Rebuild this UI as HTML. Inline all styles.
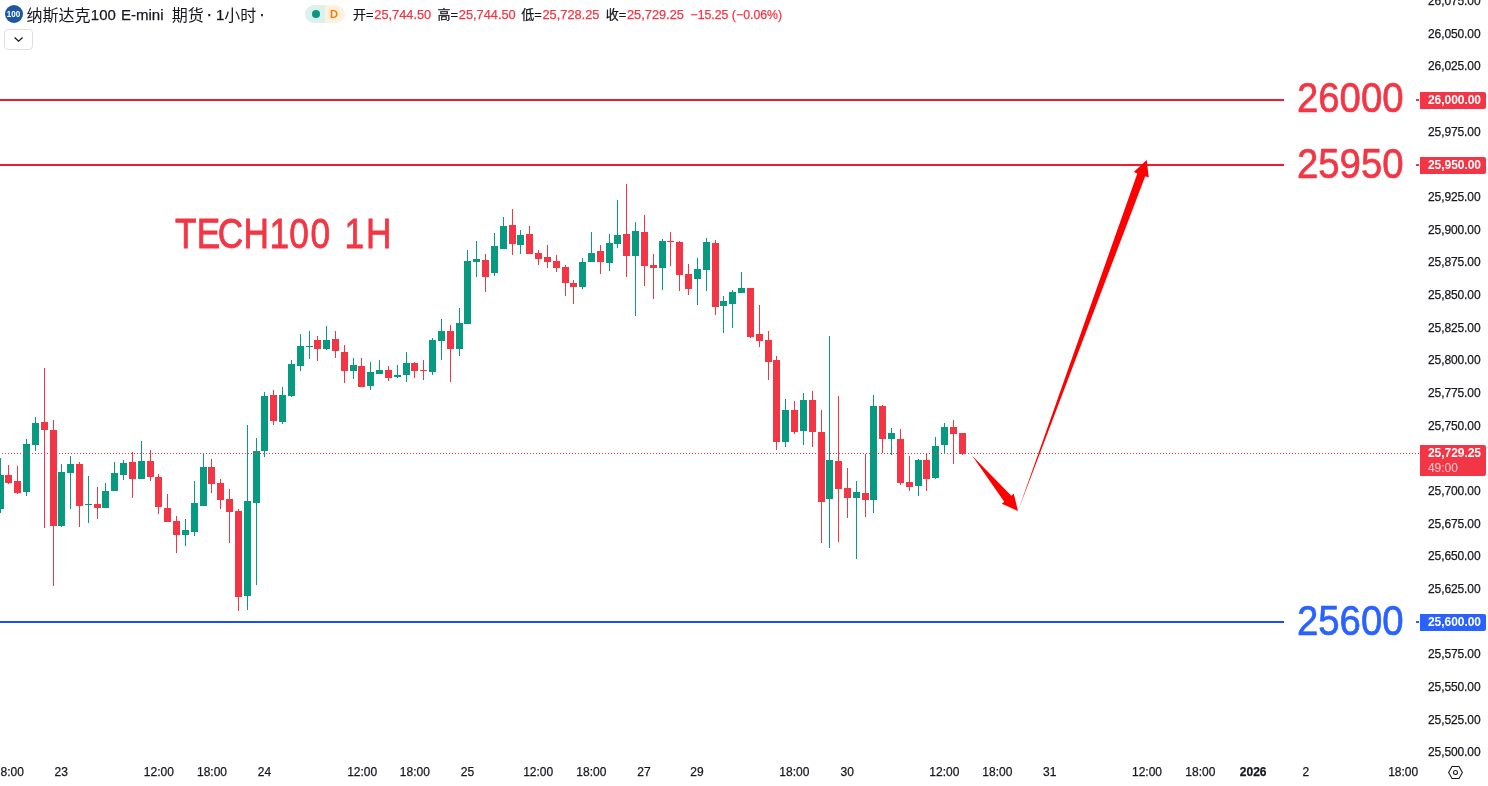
<!DOCTYPE html>
<html lang="zh-CN"><head><meta charset="utf-8"><title>TECH100 1H</title>
<style>
html,body{margin:0;padding:0;background:#fff;}
body{width:1488px;height:786px;position:relative;overflow:hidden;font-family:"Liberation Sans","Noto Sans CJK SC",sans-serif;color:#16181e;}
#chart{position:absolute;left:0;top:0;}
.pl,.tl,.ohlc,.h15{-webkit-text-stroke:0.25px currentColor;}
.pl{position:absolute;left:1428px;width:60px;height:16px;line-height:16px;font-size:12px;white-space:nowrap;letter-spacing:-0.1px;}
.tl{position:absolute;top:764px;width:60px;height:16px;line-height:16px;font-size:12px;text-align:center;white-space:nowrap;}
.tl.b{font-weight:bold;}
.tag{position:absolute;left:1420px;width:66px;height:17px;border-radius:0 2px 2px 0;color:#fff;font-weight:bold;font-size:12px;line-height:17px;box-sizing:border-box;padding-left:8px;white-space:nowrap;letter-spacing:-0.05px;}
.big{position:absolute;left:1297.2px;font-size:42px;line-height:44px;height:44px;white-space:nowrap;transform-origin:0 0;transform:scaleX(0.912);margin-top:0.7px;-webkit-text-stroke:0.7px currentColor;}
.hdr{position:absolute;white-space:nowrap;}
.h16{top:4.8px;height:22px;line-height:22px;font-size:16px;}
.h15{top:4px;height:22px;line-height:22px;font-size:15px;}
.ohlc{position:absolute;top:6px;height:18px;line-height:18px;font-size:12.8px;white-space:nowrap;color:#f23645;}
.ohlc i{font-style:normal;color:#16181e;font-size:13px;}
#wrap{position:absolute;left:0;top:0;width:1488px;height:786px;will-change:transform;}
</style></head><body>
<div id="wrap">
<svg id="chart" width="1488" height="786" viewBox="0 0 1488 786">
<g shape-rendering="crispEdges">
<rect x="0" y="458" width="1" height="55" fill="#089981"/>
<rect x="-3" y="475" width="7" height="34" fill="#089981"/>
<rect x="8" y="465" width="1" height="19" fill="#f23645"/>
<rect x="5" y="475" width="7" height="8" fill="#f23645"/>
<rect x="17" y="466" width="1" height="28" fill="#f23645"/>
<rect x="14" y="481" width="7" height="12" fill="#f23645"/>
<rect x="26" y="439" width="1" height="57" fill="#089981"/>
<rect x="23" y="444" width="7" height="48" fill="#089981"/>
<rect x="35" y="417" width="1" height="34" fill="#089981"/>
<rect x="32" y="423" width="7" height="22" fill="#089981"/>
<rect x="44" y="368" width="1" height="160" fill="#f23645"/>
<rect x="41" y="422" width="7" height="8" fill="#f23645"/>
<rect x="53" y="420" width="1" height="166" fill="#f23645"/>
<rect x="50" y="430" width="7" height="96" fill="#f23645"/>
<rect x="61" y="464" width="1" height="63" fill="#089981"/>
<rect x="58" y="472" width="7" height="54" fill="#089981"/>
<rect x="70" y="456" width="1" height="53" fill="#089981"/>
<rect x="67" y="464" width="7" height="9" fill="#089981"/>
<rect x="79" y="462" width="1" height="65" fill="#f23645"/>
<rect x="76" y="464" width="7" height="42" fill="#f23645"/>
<rect x="88" y="476" width="1" height="47" fill="#089981"/>
<rect x="85" y="504" width="7" height="1" fill="#089981"/>
<rect x="97" y="487" width="1" height="32" fill="#f23645"/>
<rect x="94" y="504" width="7" height="4" fill="#f23645"/>
<rect x="105" y="483" width="1" height="25" fill="#089981"/>
<rect x="102" y="491" width="7" height="17" fill="#089981"/>
<rect x="114" y="462" width="1" height="29" fill="#089981"/>
<rect x="111" y="473" width="7" height="18" fill="#089981"/>
<rect x="123" y="460" width="1" height="20" fill="#089981"/>
<rect x="120" y="463" width="7" height="12" fill="#089981"/>
<rect x="132" y="452" width="1" height="46" fill="#f23645"/>
<rect x="129" y="462" width="7" height="17" fill="#f23645"/>
<rect x="141" y="441" width="1" height="38" fill="#089981"/>
<rect x="138" y="461" width="7" height="18" fill="#089981"/>
<rect x="150" y="450" width="1" height="31" fill="#f23645"/>
<rect x="147" y="461" width="7" height="16" fill="#f23645"/>
<rect x="158" y="474" width="1" height="40" fill="#f23645"/>
<rect x="155" y="477" width="7" height="30" fill="#f23645"/>
<rect x="167" y="494" width="1" height="28" fill="#f23645"/>
<rect x="164" y="508" width="7" height="14" fill="#f23645"/>
<rect x="176" y="516" width="1" height="37" fill="#f23645"/>
<rect x="173" y="521" width="7" height="14" fill="#f23645"/>
<rect x="185" y="519" width="1" height="27" fill="#089981"/>
<rect x="182" y="530" width="7" height="5" fill="#089981"/>
<rect x="194" y="481" width="1" height="55" fill="#089981"/>
<rect x="191" y="503" width="7" height="29" fill="#089981"/>
<rect x="203" y="454" width="1" height="52" fill="#089981"/>
<rect x="200" y="467" width="7" height="39" fill="#089981"/>
<rect x="211" y="459" width="1" height="34" fill="#f23645"/>
<rect x="208" y="467" width="7" height="17" fill="#f23645"/>
<rect x="220" y="479" width="1" height="30" fill="#f23645"/>
<rect x="217" y="483" width="7" height="17" fill="#f23645"/>
<rect x="229" y="489" width="1" height="54" fill="#f23645"/>
<rect x="226" y="499" width="7" height="13" fill="#f23645"/>
<rect x="238" y="509" width="1" height="102" fill="#f23645"/>
<rect x="235" y="511" width="7" height="86" fill="#f23645"/>
<rect x="247" y="425" width="1" height="185" fill="#089981"/>
<rect x="244" y="501" width="7" height="95" fill="#089981"/>
<rect x="256" y="438" width="1" height="147" fill="#089981"/>
<rect x="253" y="451" width="7" height="52" fill="#089981"/>
<rect x="264" y="392" width="1" height="65" fill="#089981"/>
<rect x="261" y="396" width="7" height="55" fill="#089981"/>
<rect x="273" y="390" width="1" height="35" fill="#f23645"/>
<rect x="270" y="395" width="7" height="26" fill="#f23645"/>
<rect x="282" y="387" width="1" height="37" fill="#089981"/>
<rect x="279" y="395" width="7" height="27" fill="#089981"/>
<rect x="291" y="360" width="1" height="37" fill="#089981"/>
<rect x="288" y="364" width="7" height="32" fill="#089981"/>
<rect x="300" y="334" width="1" height="37" fill="#089981"/>
<rect x="297" y="346" width="7" height="20" fill="#089981"/>
<rect x="309" y="331" width="1" height="28" fill="#089981"/>
<rect x="306" y="346" width="7" height="1" fill="#089981"/>
<rect x="317" y="336" width="1" height="25" fill="#f23645"/>
<rect x="314" y="340" width="7" height="9" fill="#f23645"/>
<rect x="326" y="326" width="1" height="24" fill="#089981"/>
<rect x="323" y="340" width="7" height="9" fill="#089981"/>
<rect x="335" y="331" width="1" height="27" fill="#f23645"/>
<rect x="332" y="339" width="7" height="12" fill="#f23645"/>
<rect x="344" y="345" width="1" height="38" fill="#f23645"/>
<rect x="341" y="352" width="7" height="19" fill="#f23645"/>
<rect x="353" y="358" width="1" height="21" fill="#089981"/>
<rect x="350" y="365" width="7" height="6" fill="#089981"/>
<rect x="361" y="358" width="1" height="29" fill="#f23645"/>
<rect x="358" y="366" width="7" height="21" fill="#f23645"/>
<rect x="370" y="362" width="1" height="28" fill="#089981"/>
<rect x="367" y="372" width="7" height="14" fill="#089981"/>
<rect x="379" y="360" width="1" height="14" fill="#089981"/>
<rect x="376" y="370" width="7" height="4" fill="#089981"/>
<rect x="388" y="366" width="1" height="15" fill="#f23645"/>
<rect x="385" y="370" width="7" height="8" fill="#f23645"/>
<rect x="397" y="365" width="1" height="13" fill="#089981"/>
<rect x="394" y="375" width="7" height="2" fill="#089981"/>
<rect x="406" y="352" width="1" height="30" fill="#089981"/>
<rect x="403" y="363" width="7" height="12" fill="#089981"/>
<rect x="414" y="362" width="1" height="16" fill="#f23645"/>
<rect x="411" y="363" width="7" height="8" fill="#f23645"/>
<rect x="423" y="360" width="1" height="20" fill="#f23645"/>
<rect x="420" y="370" width="7" height="1" fill="#f23645"/>
<rect x="432" y="338" width="1" height="37" fill="#089981"/>
<rect x="429" y="340" width="7" height="32" fill="#089981"/>
<rect x="441" y="319" width="1" height="41" fill="#089981"/>
<rect x="438" y="331" width="7" height="10" fill="#089981"/>
<rect x="450" y="325" width="1" height="57" fill="#f23645"/>
<rect x="447" y="331" width="7" height="18" fill="#f23645"/>
<rect x="459" y="308" width="1" height="48" fill="#089981"/>
<rect x="456" y="323" width="7" height="26" fill="#089981"/>
<rect x="467" y="250" width="1" height="74" fill="#089981"/>
<rect x="464" y="261" width="7" height="63" fill="#089981"/>
<rect x="476" y="241" width="1" height="36" fill="#089981"/>
<rect x="473" y="259" width="7" height="3" fill="#089981"/>
<rect x="485" y="254" width="1" height="38" fill="#f23645"/>
<rect x="482" y="260" width="7" height="17" fill="#f23645"/>
<rect x="494" y="233" width="1" height="43" fill="#089981"/>
<rect x="491" y="246" width="7" height="27" fill="#089981"/>
<rect x="503" y="217" width="1" height="32" fill="#089981"/>
<rect x="500" y="226" width="7" height="23" fill="#089981"/>
<rect x="512" y="209" width="1" height="46" fill="#f23645"/>
<rect x="509" y="225" width="7" height="19" fill="#f23645"/>
<rect x="520" y="230" width="1" height="24" fill="#089981"/>
<rect x="517" y="235" width="7" height="10" fill="#089981"/>
<rect x="529" y="226" width="1" height="28" fill="#f23645"/>
<rect x="526" y="234" width="7" height="20" fill="#f23645"/>
<rect x="538" y="250" width="1" height="15" fill="#f23645"/>
<rect x="535" y="253" width="7" height="6" fill="#f23645"/>
<rect x="547" y="245" width="1" height="23" fill="#f23645"/>
<rect x="544" y="257" width="7" height="5" fill="#f23645"/>
<rect x="556" y="255" width="1" height="17" fill="#f23645"/>
<rect x="553" y="261" width="7" height="7" fill="#f23645"/>
<rect x="565" y="265" width="1" height="31" fill="#f23645"/>
<rect x="562" y="267" width="7" height="16" fill="#f23645"/>
<rect x="573" y="280" width="1" height="24" fill="#f23645"/>
<rect x="570" y="283" width="7" height="4" fill="#f23645"/>
<rect x="582" y="258" width="1" height="31" fill="#089981"/>
<rect x="579" y="262" width="7" height="25" fill="#089981"/>
<rect x="591" y="232" width="1" height="30" fill="#089981"/>
<rect x="588" y="253" width="7" height="9" fill="#089981"/>
<rect x="600" y="245" width="1" height="29" fill="#f23645"/>
<rect x="597" y="251" width="7" height="11" fill="#f23645"/>
<rect x="609" y="234" width="1" height="37" fill="#089981"/>
<rect x="606" y="243" width="7" height="20" fill="#089981"/>
<rect x="617" y="200" width="1" height="48" fill="#089981"/>
<rect x="614" y="235" width="7" height="9" fill="#089981"/>
<rect x="626" y="184" width="1" height="93" fill="#f23645"/>
<rect x="623" y="234" width="7" height="22" fill="#f23645"/>
<rect x="635" y="222" width="1" height="94" fill="#089981"/>
<rect x="632" y="231" width="7" height="25" fill="#089981"/>
<rect x="644" y="215" width="1" height="71" fill="#f23645"/>
<rect x="641" y="232" width="7" height="34" fill="#f23645"/>
<rect x="653" y="254" width="1" height="45" fill="#f23645"/>
<rect x="650" y="265" width="7" height="3" fill="#f23645"/>
<rect x="662" y="239" width="1" height="51" fill="#089981"/>
<rect x="659" y="241" width="7" height="27" fill="#089981"/>
<rect x="670" y="232" width="1" height="34" fill="#f23645"/>
<rect x="667" y="241" width="7" height="1" fill="#f23645"/>
<rect x="679" y="241" width="1" height="50" fill="#f23645"/>
<rect x="676" y="242" width="7" height="33" fill="#f23645"/>
<rect x="688" y="264" width="1" height="31" fill="#f23645"/>
<rect x="685" y="274" width="7" height="15" fill="#f23645"/>
<rect x="697" y="258" width="1" height="47" fill="#089981"/>
<rect x="694" y="269" width="7" height="10" fill="#089981"/>
<rect x="706" y="238" width="1" height="53" fill="#089981"/>
<rect x="703" y="242" width="7" height="28" fill="#089981"/>
<rect x="715" y="240" width="1" height="75" fill="#f23645"/>
<rect x="712" y="243" width="7" height="64" fill="#f23645"/>
<rect x="723" y="296" width="1" height="37" fill="#089981"/>
<rect x="720" y="301" width="7" height="5" fill="#089981"/>
<rect x="732" y="290" width="1" height="38" fill="#089981"/>
<rect x="729" y="292" width="7" height="12" fill="#089981"/>
<rect x="741" y="272" width="1" height="21" fill="#089981"/>
<rect x="738" y="288" width="7" height="5" fill="#089981"/>
<rect x="750" y="288" width="1" height="50" fill="#f23645"/>
<rect x="747" y="288" width="7" height="49" fill="#f23645"/>
<rect x="759" y="305" width="1" height="42" fill="#f23645"/>
<rect x="756" y="334" width="7" height="7" fill="#f23645"/>
<rect x="768" y="331" width="1" height="49" fill="#f23645"/>
<rect x="765" y="340" width="7" height="22" fill="#f23645"/>
<rect x="776" y="356" width="1" height="94" fill="#f23645"/>
<rect x="773" y="360" width="7" height="82" fill="#f23645"/>
<rect x="785" y="399" width="1" height="48" fill="#089981"/>
<rect x="782" y="410" width="7" height="32" fill="#089981"/>
<rect x="794" y="401" width="1" height="33" fill="#f23645"/>
<rect x="791" y="410" width="7" height="22" fill="#f23645"/>
<rect x="803" y="393" width="1" height="52" fill="#089981"/>
<rect x="800" y="400" width="7" height="31" fill="#089981"/>
<rect x="812" y="391" width="1" height="56" fill="#f23645"/>
<rect x="809" y="400" width="7" height="32" fill="#f23645"/>
<rect x="821" y="410" width="1" height="133" fill="#f23645"/>
<rect x="818" y="432" width="7" height="70" fill="#f23645"/>
<rect x="829" y="336" width="1" height="212" fill="#089981"/>
<rect x="826" y="460" width="7" height="39" fill="#089981"/>
<rect x="838" y="396" width="1" height="146" fill="#f23645"/>
<rect x="835" y="461" width="7" height="28" fill="#f23645"/>
<rect x="847" y="468" width="1" height="50" fill="#f23645"/>
<rect x="844" y="488" width="7" height="10" fill="#f23645"/>
<rect x="856" y="481" width="1" height="78" fill="#089981"/>
<rect x="853" y="492" width="7" height="6" fill="#089981"/>
<rect x="865" y="454" width="1" height="63" fill="#f23645"/>
<rect x="862" y="493" width="7" height="7" fill="#f23645"/>
<rect x="873" y="395" width="1" height="118" fill="#089981"/>
<rect x="870" y="406" width="7" height="94" fill="#089981"/>
<rect x="882" y="405" width="1" height="48" fill="#f23645"/>
<rect x="879" y="406" width="7" height="33" fill="#f23645"/>
<rect x="891" y="428" width="1" height="27" fill="#089981"/>
<rect x="888" y="433" width="7" height="6" fill="#089981"/>
<rect x="900" y="429" width="1" height="56" fill="#f23645"/>
<rect x="897" y="439" width="7" height="44" fill="#f23645"/>
<rect x="909" y="456" width="1" height="35" fill="#f23645"/>
<rect x="906" y="482" width="7" height="5" fill="#f23645"/>
<rect x="918" y="459" width="1" height="37" fill="#089981"/>
<rect x="915" y="460" width="7" height="26" fill="#089981"/>
<rect x="926" y="453" width="1" height="38" fill="#f23645"/>
<rect x="923" y="460" width="7" height="19" fill="#f23645"/>
<rect x="935" y="437" width="1" height="42" fill="#089981"/>
<rect x="932" y="446" width="7" height="32" fill="#089981"/>
<rect x="944" y="423" width="1" height="30" fill="#089981"/>
<rect x="941" y="427" width="7" height="18" fill="#089981"/>
<rect x="953" y="420" width="1" height="44" fill="#f23645"/>
<rect x="950" y="427" width="7" height="7" fill="#f23645"/>
<rect x="962" y="433" width="1" height="22" fill="#f23645"/>
<rect x="959" y="433" width="7" height="21" fill="#f23645"/>
<line x1="2" y1="453.5" x2="1420" y2="453.5" stroke="#f23645" stroke-width="1" stroke-dasharray="1 2" stroke-dashoffset="0"/>
<rect x="0" y="99" width="1284" height="2" fill="#ee1c2e"/>
<rect x="0" y="164" width="1284" height="2" fill="#ee1c2e"/>
<rect x="0" y="621" width="1284" height="2" fill="#1450fc"/>
<rect x="1416" y="99" width="3" height="2" fill="#f23645"/>
<rect x="1416" y="164" width="3" height="2" fill="#f23645"/>
<rect x="1416" y="621" width="3" height="2" fill="#2962ff"/>
</g>
<polygon points="972.00,455.60 1004.24,501.63 1001.78,503.67 1018.00,511.00 1013.78,493.71 1011.32,495.75" fill="#ff0000"/>
<polygon points="1018.00,511.00 1145.20,176.28 1148.77,177.59 1146.70,160.00 1133.75,172.08 1137.32,173.39" fill="#ff0000"/>
<g transform="scale(0.84,1)"><text x="208.2 234.2 259.2 290.0 320.9 344.5 369.5 389.8 410.0 435.7" y="248" font-family="Liberation Sans, sans-serif" font-size="42" fill="#f23645" stroke="#f23645" stroke-width="0.8">TECH100 1H</text></g>
<g fill="none" stroke="#16181e" stroke-width="1.05">
<polygon points="1448.6,772.5 1452,766.5 1459,766.5 1462.4,772.5 1459,778.5 1452,778.5"/>
<circle cx="1455.5" cy="772.5" r="2"/>
</g>
</svg>

<!-- header -->
<div class="hdr" style="left:4.8px;top:4.8px;width:18.4px;height:18.4px;border-radius:9.2px;background:#1d56a1;color:#fff;font-weight:bold;font-size:9px;line-height:18.4px;text-align:center;"><span style="display:inline-block;transform:scaleX(0.9)">100</span></div>
<div class="hdr h16" style="left:26.5px">纳斯达克</div>
<div class="hdr h15" style="left:90.8px">100</div>
<div class="hdr h15" style="left:121px">E-mini</div>
<div class="hdr h16" style="left:171.7px">期货</div>
<div class="hdr h15" style="left:206.2px;font-size:18px;top:3.2px">·</div>
<div class="hdr h15" style="left:215.9px">1</div>
<div class="hdr h16" style="left:224.2px">小时</div>
<div class="hdr h15" style="left:259.1px;font-size:18px;top:3.2px">·</div>
<div class="hdr" style="left:4.2px;top:29.4px;width:26.5px;height:18.4px;border:1px solid #dcdfe6;border-radius:4px;"></div>
<svg class="hdr" style="left:5px;top:30px" width="28" height="20" viewBox="0 0 28 20"><path d="M9.6 7.6 L13.6 11.2 L17.6 7.6" fill="none" stroke="#16181e" stroke-width="1.3"/></svg>
<div class="hdr" style="left:305px;top:5px;width:40px;height:18px;border-radius:9px;overflow:hidden;background:#fff0df;">
  <div style="position:absolute;left:0;top:0;width:20px;height:18px;background:#daf1ed;"></div>
  <div style="position:absolute;left:7px;top:5px;width:8px;height:8px;border-radius:4px;background:#089981;"></div>
  <div style="position:absolute;left:20px;top:0;width:18px;height:18px;line-height:18px;text-align:center;color:#f57c00;font-weight:bold;font-size:11px;">D</div>
</div>
<div class="ohlc" style="left:353px"><i>开</i><i style="font-size:12.8px;margin-right:0.8px">=</i>25,744.50</div>
<div class="ohlc" style="left:437.5px"><i>高</i><i style="font-size:12.8px;margin-right:0.8px">=</i>25,744.50</div>
<div class="ohlc" style="left:521.2px"><i>低</i><i style="font-size:12.8px;margin-right:0.8px">=</i>25,728.25</div>
<div class="ohlc" style="left:605.7px"><i>收</i><i style="font-size:12.8px;margin-right:0.8px">=</i>25,729.25</div>
<div class="ohlc" style="left:690.5px;font-size:12.3px">−15.25 (−0.06%)</div>

<!-- drawings text -->
<div class="big" style="top:75px;color:#f23645">26000</div>
<div class="big" style="top:141px;color:#f23645">25950</div>
<div class="big" style="top:598px;color:#2962ff">25600</div>

<!-- price axis -->
<div class="pl" style="top:-7px">26,075.00</div>
<div class="pl" style="top:26px">26,050.00</div>
<div class="pl" style="top:58px">26,025.00</div>
<div class="pl" style="top:124px">25,975.00</div>
<div class="pl" style="top:189px">25,925.00</div>
<div class="pl" style="top:222px">25,900.00</div>
<div class="pl" style="top:254px">25,875.00</div>
<div class="pl" style="top:287px">25,850.00</div>
<div class="pl" style="top:320px">25,825.00</div>
<div class="pl" style="top:352px">25,800.00</div>
<div class="pl" style="top:385px">25,775.00</div>
<div class="pl" style="top:418px">25,750.00</div>
<div class="pl" style="top:483px">25,700.00</div>
<div class="pl" style="top:516px">25,675.00</div>
<div class="pl" style="top:548px">25,650.00</div>
<div class="pl" style="top:581px">25,625.00</div>
<div class="pl" style="top:646px">25,575.00</div>
<div class="pl" style="top:679px">25,550.00</div>
<div class="pl" style="top:712px">25,525.00</div>
<div class="pl" style="top:744px">25,500.00</div>
<div class="tag" style="top:92px;background:#f23645">26,000.00</div>
<div class="tag" style="top:157px;background:#f23645">25,950.00</div>
<div class="tag" style="top:614px;background:#2962ff">25,600.00</div>
<div class="tag" style="top:445px;height:31px;background:#f23645;line-height:15px;padding-top:1px;">25,729.25<br><span style="font-weight:normal;color:rgba(255,255,255,0.75)">49:00</span></div>

<!-- time axis -->
<div class="tl" style="left:-21.2px">18:00</div>
<div class="tl" style="left:31.2px">23</div>
<div class="tl" style="left:128.8px">12:00</div>
<div class="tl" style="left:182.0px">18:00</div>
<div class="tl" style="left:234.5px">24</div>
<div class="tl" style="left:332.2px">12:00</div>
<div class="tl" style="left:384.8px">18:00</div>
<div class="tl" style="left:437.5px">25</div>
<div class="tl" style="left:508.2px">12:00</div>
<div class="tl" style="left:561.3px">18:00</div>
<div class="tl" style="left:614.0px">27</div>
<div class="tl" style="left:667.0px">29</div>
<div class="tl" style="left:764.3px">18:00</div>
<div class="tl" style="left:817.2px">30</div>
<div class="tl" style="left:914.3px">12:00</div>
<div class="tl" style="left:967.3px">18:00</div>
<div class="tl" style="left:1019.8px">31</div>
<div class="tl" style="left:1117.0px">12:00</div>
<div class="tl" style="left:1170.3px">18:00</div>
<div class="tl b" style="left:1223.2px">2026</div>
<div class="tl" style="left:1275.8px">2</div>
<div class="tl" style="left:1373.2px">18:00</div>
</div>
</body></html>
